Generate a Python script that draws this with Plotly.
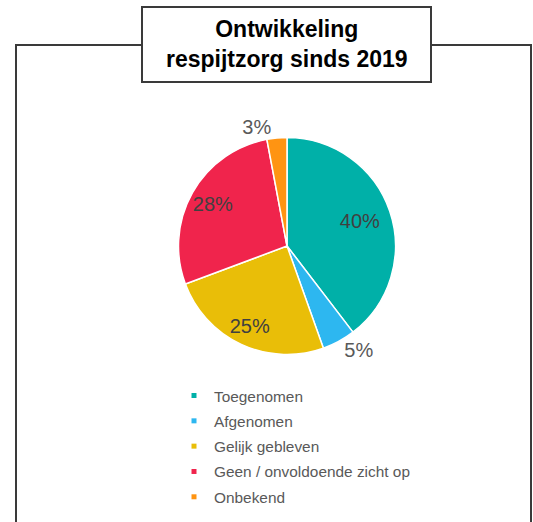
import plotly.graph_objects as go

# Data
categories = ["Toegenomen", "Afgenomen", "Gelijk gebleven", "Geen / onvoldoende zicht op", "Onbekend"]
values = [40, 5, 25, 28, 3]
colors = ["#00B0A8", "#2DB7F0", "#E9BE08", "#F0244C", "#FF9412"]
outer_label_positions = ["none", "outside", "none", "none", "outside"]
inner_label_positions = ["inside", "none", "inside", "inside", "none"]
title_text = "Ontwikkeling<br>respijtzorg sinds 2019"

W, H = 533, 522
FONT = "Liberation Sans, Arial, sans-serif"


def px(x):
    return x / W


def py(y):
    return 1 - y / H


CX, CY, R = 287, 246, 108.5
R_TEXT = 150  # radius of the transparent label ring

fig = go.Figure()

# visible pie (with outside labels for the small slices)
fig.add_trace(go.Pie(
    labels=categories,
    values=values,
    sort=False,
    direction="clockwise",
    rotation=0,
    marker=dict(colors=colors, line=dict(color="white", width=1.5)),
    texttemplate="%{value}%",
    textposition=outer_label_positions,
    outsidetextfont=dict(family=FONT, size=20, color="#595959"),
    domain=dict(x=[px(CX - R), px(CX + R)], y=[py(CY + R), py(CY - R)]),
    showlegend=False,
    hoverinfo="label+percent",
))

# transparent ring carrying the inside labels further out, like the reference
fig.add_trace(go.Pie(
    labels=categories,
    values=values,
    sort=False,
    direction="clockwise",
    rotation=0,
    marker=dict(colors=["rgba(0,0,0,0)"] * len(values), line=dict(width=0)),
    texttemplate="%{value}%",
    textposition=inner_label_positions,
    insidetextorientation="horizontal",
    insidetextfont=dict(family=FONT, size=20, color="#404040"),
    domain=dict(x=[px(CX - R_TEXT), px(CX + R_TEXT)], y=[py(CY + R_TEXT), py(CY - R_TEXT)]),
    showlegend=False,
    hoverinfo="skip",
))

for name, col in zip(categories, colors):
    fig.add_trace(go.Scatter(
        x=[None], y=[None], mode="markers", name=name,
        legendgroup=name,
        marker=dict(symbol="square", size=5, color=col),
        hoverinfo="skip",
    ))

frame_color = "#3A3A3A"
shapes = [
    dict(type="path", xref="paper", yref="paper",
         path=f"M {px(16)},{py(530)} L {px(16)},{py(45)} L {px(531)},{py(45)} L {px(531)},{py(530)}",
         line=dict(color=frame_color, width=2)),
    dict(type="rect", xref="paper", yref="paper",
         x0=px(142), x1=px(431), y0=py(82), y1=py(7),
         fillcolor="white", line=dict(color=frame_color, width=2)),
]

fig.update_layout(
    width=W, height=H,
    margin=dict(l=0, r=0, t=0, b=0),
    paper_bgcolor="white",
    plot_bgcolor="white",
    xaxis=dict(visible=False),
    yaxis=dict(visible=False),
    shapes=shapes,
    annotations=[dict(
        text="<b>" + title_text + "</b>",
        xref="paper", yref="paper", x=px(286.5), y=py(44),
        xanchor="center", yanchor="middle", showarrow=False,
        font=dict(family=FONT, size=23, color="#000000"),
    )],
    legend=dict(
        x=px(174), y=py(379), xanchor="left", yanchor="top",
        font=dict(family=FONT, size=15.4, color="#595959"),
        tracegroupgap=2.3,
        bgcolor="rgba(0,0,0,0)",
    ),
    showlegend=True,
)

fig.write_html("out.html", config={"displayModeBar": False},
               post_script="document.body.style.margin='0';")
